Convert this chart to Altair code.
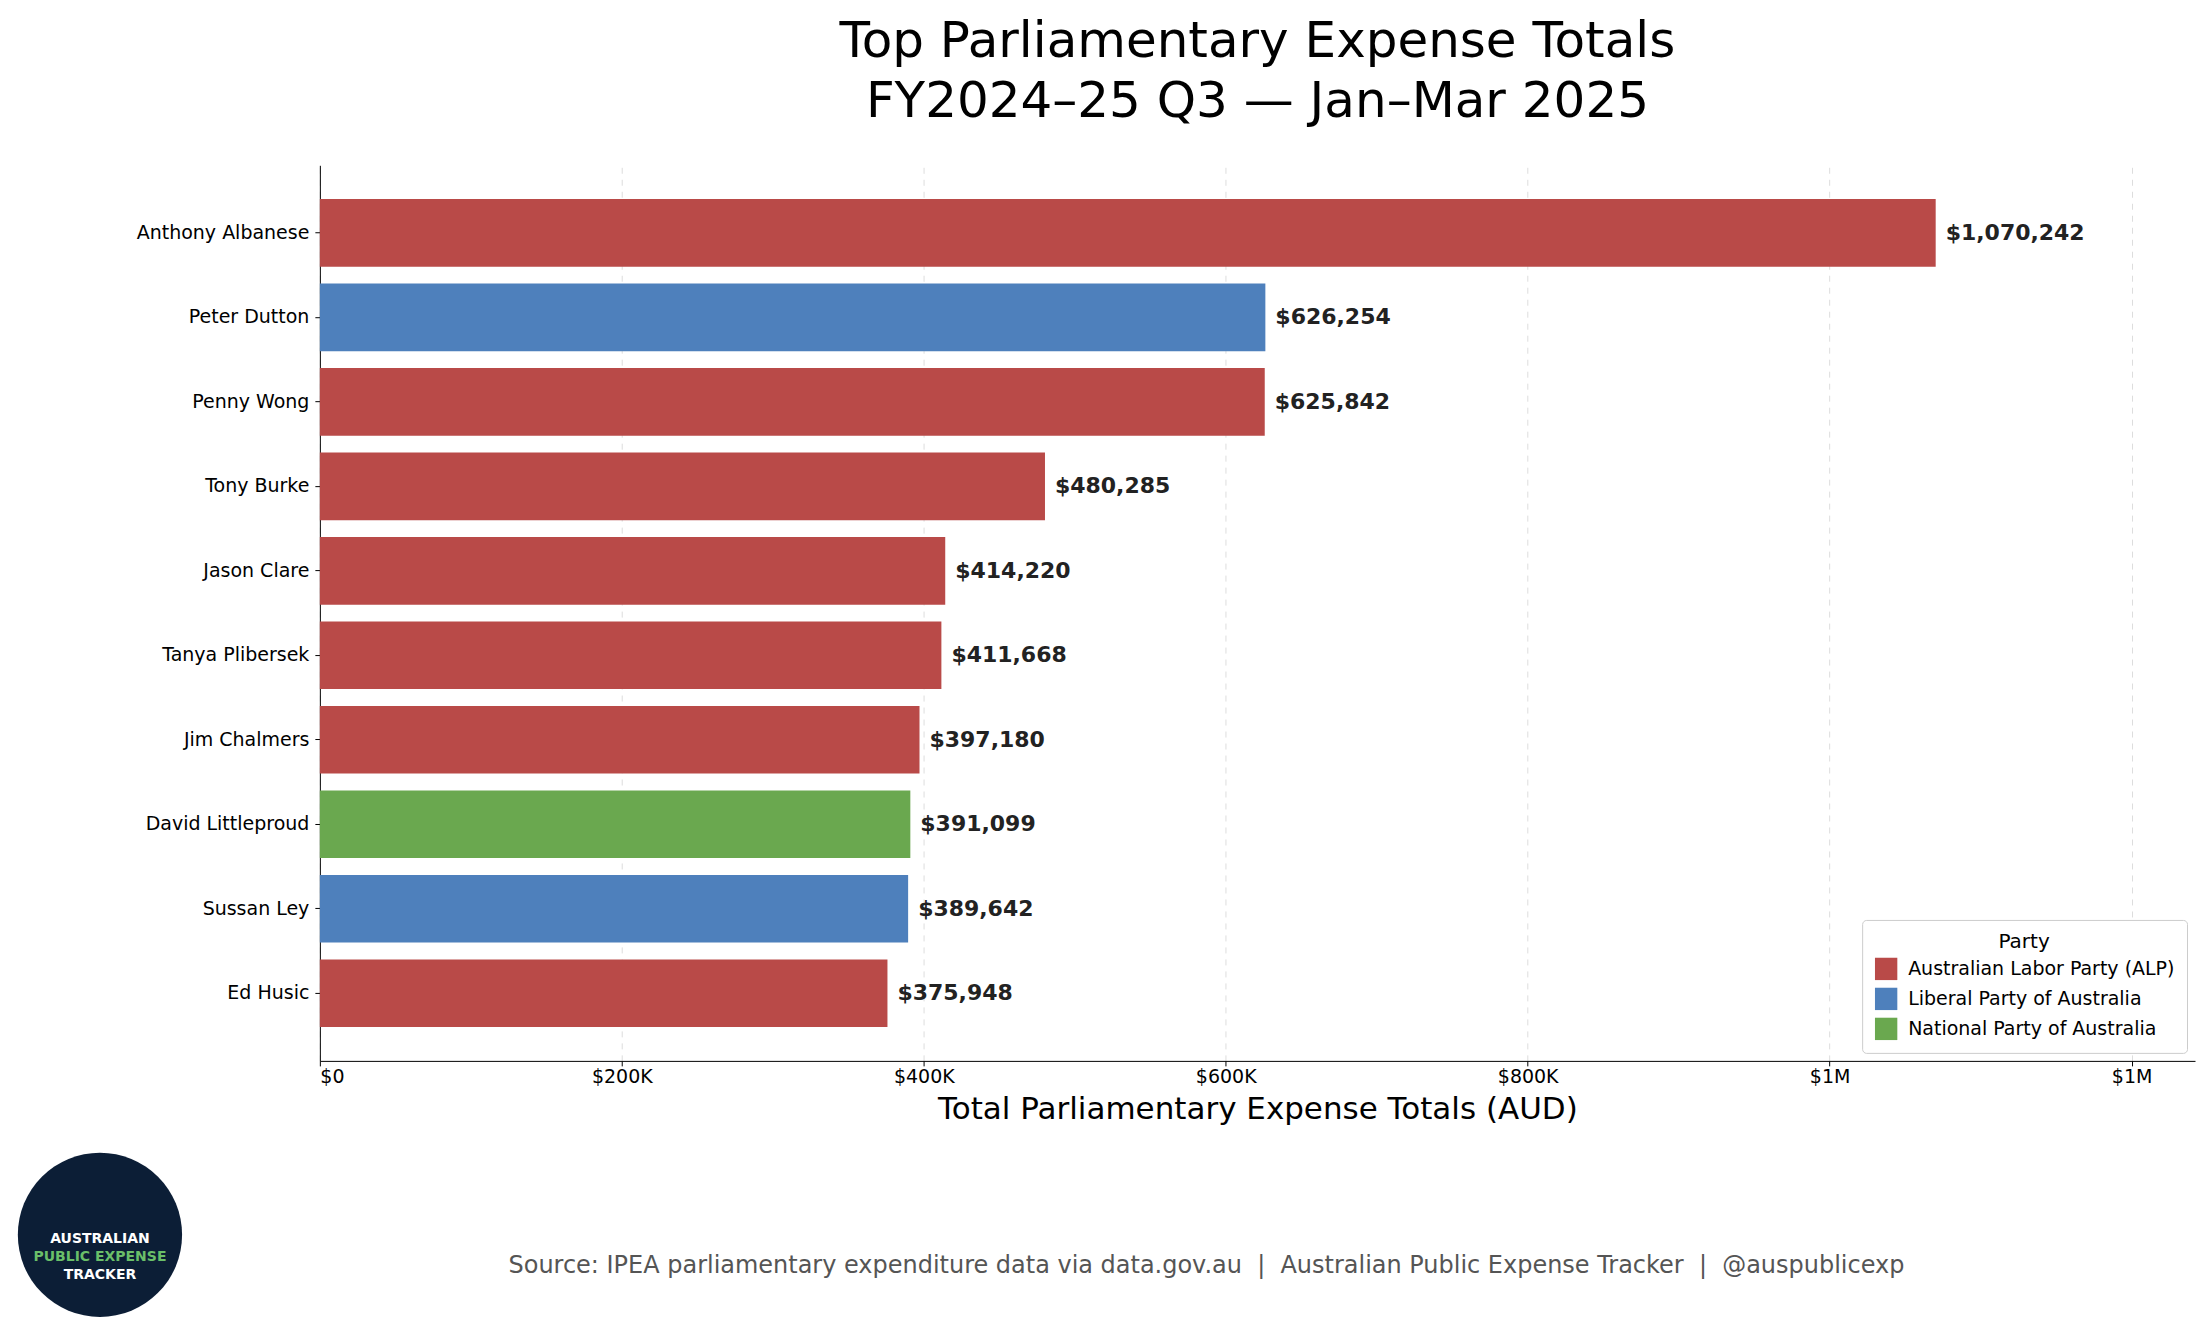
import altair as alt
import pandas as pd

names = ["Anthony Albanese", "Peter Dutton", "Penny Wong", "Tony Burke", "Jason Clare",
         "Tanya Plibersek", "Jim Chalmers", "David Littleproud", "Sussan Ley", "Ed Husic"]
totals = [1070242, 626254, 625842, 480285, 414220, 411668, 397180, 391099, 389642, 375948]
parties = ["Australian Labor Party (ALP)", "Liberal Party of Australia", "Australian Labor Party (ALP)",
           "Australian Labor Party (ALP)", "Australian Labor Party (ALP)", "Australian Labor Party (ALP)",
           "Australian Labor Party (ALP)", "National Party of Australia", "Liberal Party of Australia",
           "Australian Labor Party (ALP)"]
party_order = ["Australian Labor Party (ALP)", "Liberal Party of Australia", "National Party of Australia"]
party_colors = ["#b94a48", "#4e80bc", "#6aa84f"]

df = pd.DataFrame({"name": names, "total": totals, "party": parties})
df["label"] = df["total"].map(lambda v: f"${v:,.0f}")

FONT = "DejaVu Sans"
W, H = 1876, 896

y = alt.Y("name:N", sort=names, title=None,
          scale=alt.Scale(paddingInner=0.2, paddingOuter=0.4),
          axis=alt.Axis(labelFontSize=19, labelFont=FONT, labelColor="#000", domainColor="#000",
                        tickColor="#000", labelPadding=6))
x = alt.X("total:Q", title="Total Parliamentary Expense Totals (AUD)",
          scale=alt.Scale(domain=[0, 1242000], nice=False),
          axis=alt.Axis(values=[0, 200000, 400000, 600000, 800000, 1000000, 1200000],
                        labelExpr="datum.value == 0 ? '$0' : (datum.value >= 1000000 ? '$1M' : '$' + format(datum.value/1000, 'd') + 'K')",
                        labelFontSize=19, labelFont=FONT, labelColor="#000", titleFontSize=31,
                        titleFont=FONT, titleFontWeight="normal", titleColor="#000", titlePadding=8,
                        grid=True, gridDash=[6, 6], gridColor="#dddddd", domainColor="#000",
                        tickColor="#000"))

base = alt.Chart(df)
bars = base.mark_bar().encode(
    x=x, y=y,
    color=alt.Color("party:N", scale=alt.Scale(domain=party_order, range=party_colors),
                    legend=alt.Legend(title="Party", orient="bottom-right", titleFontSize=20,
                                      titleFontWeight="normal", titleFont=FONT, labelFont=FONT,
                                      labelFontSize=19, symbolType="square", symbolSize=500,
                                      labelLimit=400, rowPadding=6, labelOffset=10,
                                      titleAnchor="middle", strokeColor="#cccccc", padding=12,
                                      fillColor="white", cornerRadius=4, offset=8)),
)
labels = base.mark_text(align="left", dx=10, fontSize=22, fontWeight="bold", font=FONT,
                        color="#222").encode(x="total:Q", y=alt.Y("name:N", sort=names), text="label:N")

sep = "\u00a0\u00a0|\u00a0\u00a0"
source = alt.Chart(pd.DataFrame({"t": ["Source: IPEA parliamentary expenditure data via data.gov.au" + sep
                                       + "Australian Public Expense Tracker" + sep + "@auspublicexp"]})).mark_text(
    fontSize=24, font=FONT, color="#555555", align="center").encode(
    x=alt.value(887), y=alt.value(1101), text="t:N")

logo_circle = alt.Chart(pd.DataFrame({"a": [1]})).mark_point(
    filled=True, size=27000, color="#0c1e36", opacity=1, shape="circle").encode(
    x=alt.value(-220), y=alt.value(1070))
logo_text = alt.Chart(pd.DataFrame({"t": ["AUSTRALIAN", "PUBLIC EXPENSE", "TRACKER"],
                                    "yy": [1074, 1092, 1110], "c": ["white", "#6abf69", "white"]})).mark_text(
    fontSize=14, fontWeight="bold", font=FONT).encode(
    x=alt.value(-220), y=alt.Y("yy:Q", scale=None), text="t:N", color=alt.Color("c:N", scale=None))

chart = alt.layer(bars, labels, source, logo_circle, logo_text).properties(
    width=W, height=H,
    title=alt.Title(["Top Parliamentary Expense Totals", "FY2024–25 Q3 — Jan–Mar 2025"],
                    fontSize=50, font=FONT, fontWeight="normal", anchor="middle", offset=38,
                    lineHeight=60),
    padding={"left": 9, "top": 9, "right": 2, "bottom": 260},
).configure_view(stroke=None).configure_axisY(grid=False).configure_axisX(domain=True)

chart.save("out.html", embed_options={"renderer": "svg", "actions": False})
